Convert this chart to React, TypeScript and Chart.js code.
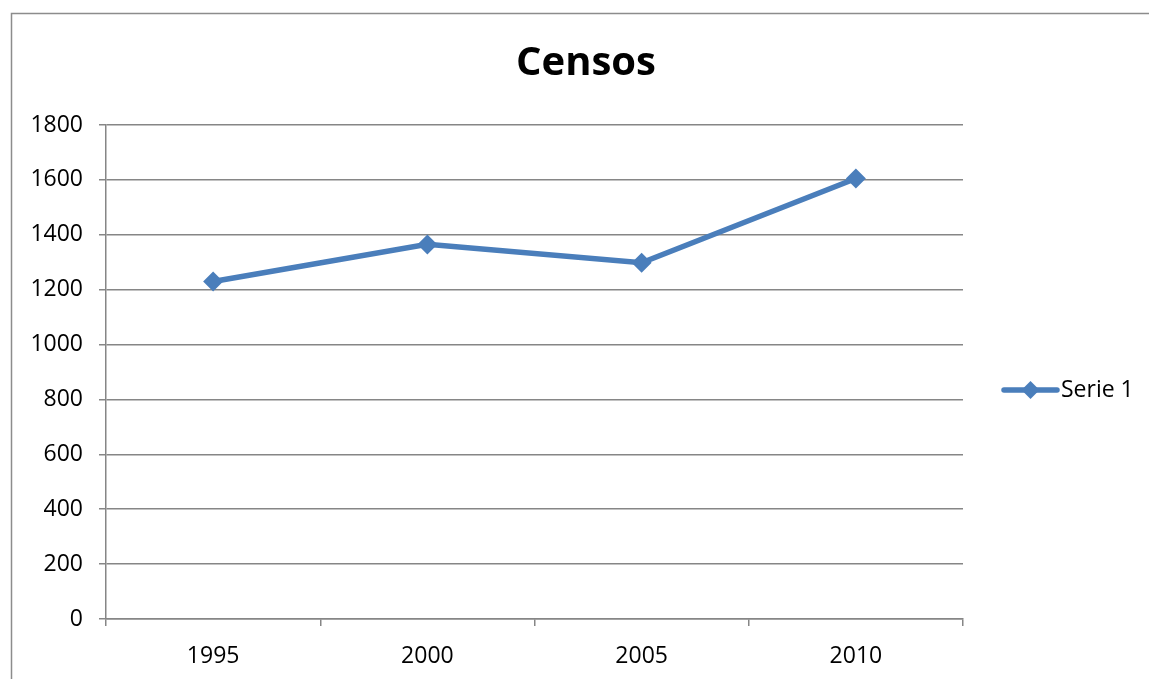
import React, { useEffect, useRef } from "react";
import { Chart, registerables } from "chart.js";

Chart.register(...registerables);

const categories = ["1995", "2000", "2005", "2010"];
const serie1 = [1230, 1365, 1298, 1605];
const seriesName = "Serie 1";
const chartTitle = "Censos";
const yMin = 0;
const yMax = 1800;
const yStep = 200;

const FONT = "'Open Sans', 'Liberation Sans', sans-serif";
const BLUE = "#4A7EBB";
const GRID = "#868686";

export default function App() {
  const ref = useRef<HTMLCanvasElement | null>(null);

  useEffect(() => {
    if (!ref.current) return;
    const decor = {
      id: "decor",
      afterDraw(chart: any) {
        const ctx = chart.ctx as CanvasRenderingContext2D;
        ctx.save();
        // border
        ctx.strokeStyle = "#8c8c8c";
        ctx.lineWidth = 1.5;
        ctx.beginPath();
        ctx.moveTo(11.5, 679);
        ctx.lineTo(11.5, 13.5);
        ctx.lineTo(1149, 13.5);
        ctx.stroke();
        // title
        ctx.fillStyle = "#000";
        ctx.font = `bold 40px ${FONT}`;
        ctx.textAlign = "center";
        ctx.textBaseline = "middle";
        ctx.fillText(chartTitle, 586, 64);
        // legend
        const ly = 390;
        ctx.strokeStyle = BLUE;
        ctx.lineWidth = 5.5;
        ctx.lineCap = "round";
        ctx.beginPath();
        ctx.moveTo(1004, ly);
        ctx.lineTo(1057, ly);
        ctx.stroke();
        ctx.fillStyle = BLUE;
        ctx.beginPath();
        ctx.moveTo(1030.5, ly - 9);
        ctx.lineTo(1039.5, ly);
        ctx.lineTo(1030.5, ly + 9);
        ctx.lineTo(1021.5, ly);
        ctx.closePath();
        ctx.fill();
        ctx.fillStyle = "#000";
        ctx.font = `23px ${FONT}`;
        ctx.textAlign = "left";
        ctx.fillText(seriesName, 1061, ly);
        ctx.restore();
      },
    };

    const chart = new Chart(ref.current, {
      type: "line",
      data: {
        labels: categories,
        datasets: [
          {
            label: seriesName,
            data: serie1,
            borderColor: BLUE,
            backgroundColor: BLUE,
            borderWidth: 5.5,
            pointStyle: "rectRot",
            pointRadius: 10,
            pointBorderWidth: 0,
            pointBackgroundColor: BLUE,
            tension: 0,
          },
        ],
      },
      options: {
        responsive: false,
        animation: false,
        layout: { padding: { left: 0, right: 186, top: 125, bottom: 0 } },
        plugins: {
          legend: { display: false },
          title: { display: false },
          tooltip: { enabled: false },
        },
        scales: {
          x: {
            type: "category",
            offset: true,
            afterFit(axis: any) {
              axis.height = 60;
            },
            grid: {
              offset: true,
              drawOnChartArea: false,
              drawTicks: true,
              tickLength: 7,
              color: GRID,
              lineWidth: 1.5,
            },
            border: { display: true, color: GRID, width: 1.5 },
            ticks: {
              color: "#000",
              font: { family: FONT, size: 23 },
              padding: 17,
              maxRotation: 0,
            },
          },
          y: {
            min: yMin,
            max: yMax,
            afterFit(axis: any) {
              axis.width = 106;
            },
            grid: {
              color: GRID,
              lineWidth: 1.5,
              drawTicks: true,
              tickLength: 7,
            },
            border: { display: true, color: GRID, width: 1.5 },
            ticks: {
              stepSize: yStep,
              color: "#000",
              font: { family: FONT, size: 23 },
              padding: 16,
              callback: (v: any) => String(v),
            },
          },
        },
      },
      plugins: [decor],
    });
    return () => chart.destroy();
  }, []);

  return (
    <div style={{ position: "fixed", left: 0, top: 0, width: 1149, height: 679, background: "#fff" }}>
      <canvas ref={ref} width={1149} height={679} style={{ display: "block" }} />
    </div>
  );
}
